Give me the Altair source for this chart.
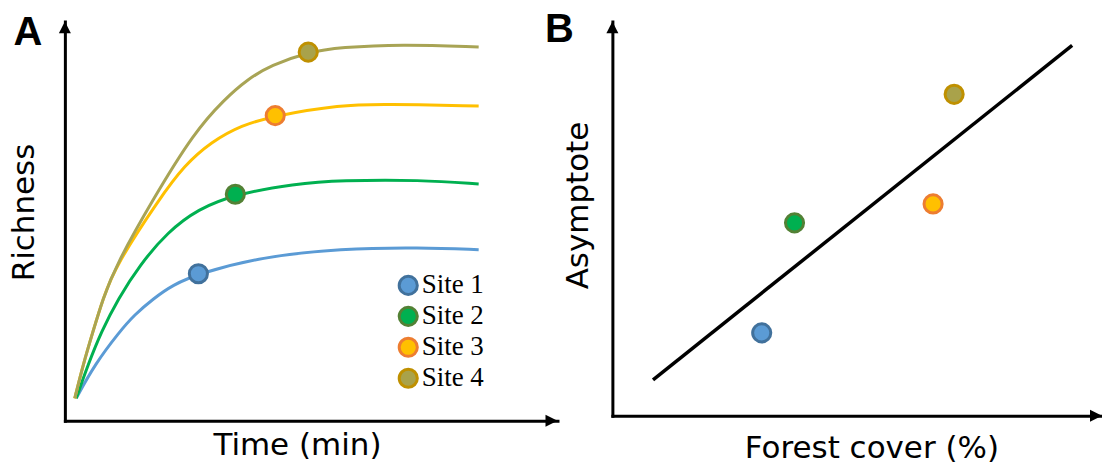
import altair as alt
import pandas as pd

# ---- shared categories and palette ----
sites = ["Site 1", "Site 2", "Site 3", "Site 4"]
line_colors = ["#5B9BD5", "#00B050", "#FFC000", "#A8A455"]
marker_fill = ["#5B9BD5", "#00B050", "#FFC000", "#A9A24A"]
marker_stroke = ["#41719C", "#538135", "#ED7D31", "#BF9000"]

# ---- panel A: accumulation curves (time vs richness) ----
time_s1 = [2.3, 6.0, 11.1, 14.1, 17.9, 21.9, 27.1, 39.8, 56.0, 72.2, 84.0]
rich_s1 = [5.6, 14.0, 22.3, 26.5, 30.5, 34.0, 36.8, 41.0, 43.1, 43.4, 42.8]

time_s2 = [2.3, 4.7, 7.4, 10.8, 15.2, 20.9, 27.0, 34.6, 46.6, 56.0, 72.2, 84.0]
rich_s2 = [5.6, 14.0, 22.3, 30.5, 39.0, 47.3, 53.0, 56.7, 59.3, 60.2, 60.3, 59.3]

time_s3 = [2.0, 3.7, 5.7, 7.7, 10.4, 19.2, 24.3, 29.7, 35.8, 42.7, 56.0, 64.7, 84.0]
rich_s3 = [5.6, 14.0, 22.3, 30.5, 39.0, 55.6, 64.0, 69.8, 74.0, 76.4, 79.1, 79.3, 78.8]

time_s4 = [2.0, 3.7, 5.7, 7.7, 10.4, 17.9, 26.3, 32.4, 37.1, 41.8, 49.4, 56.0, 68.2, 84.0]
rich_s4 = [5.6, 14.0, 22.3, 30.5, 39.0, 55.5, 72.3, 80.5, 85.5, 89.0, 92.3, 93.5, 94.3, 93.6]

# highlighted point on each curve
marker_time = [27.1, 34.6, 42.7, 49.4]
marker_rich = [36.8, 56.7, 76.4, 92.3]

# ---- panel B: asymptote against forest cover ----
forest_cover = [30.5, 37.2, 65.5, 69.8]
asymptote = [21.0, 48.9, 53.7, 81.5]
trend_cover = [8.3, 93.9]
trend_asym = [9.1, 93.9]

# ---- tables ----
curve_rows = []
for site, ts, rs in zip(sites, [time_s1, time_s2, time_s3, time_s4],
                        [rich_s1, rich_s2, rich_s3, rich_s4]):
    for order, (t, r) in enumerate(zip(ts, rs)):
        curve_rows.append({"site": site, "time": t, "richness": r, "order": order})
curves = pd.DataFrame(curve_rows)
markers_a = pd.DataFrame({"site": sites, "time": marker_time, "richness": marker_rich})
sites_b = pd.DataFrame({"site": sites, "cover": forest_cover, "asym": asymptote})
trend = pd.DataFrame({"cover": trend_cover, "asym": trend_asym})

TITLE_FONT = "DejaVu Sans"
TITLE_SIZE = 31
W_A, H_A = 493.5, 400
W_B, H_B = 490.5, 395
DOT_SIZE = 330

ARROW_UP = "M0,0L-1,2L1,2Z"
ARROW_RIGHT = "M0,0L-2,-1L-2,1Z"

color_scale = alt.Scale(domain=sites, range=line_colors)
fill_scale = alt.Scale(domain=sites, range=marker_fill)
stroke_scale = alt.Scale(domain=sites, range=marker_stroke)


def axis(title, **kw):
    return alt.Axis(
        title=title, labels=False, ticks=False, grid=False,
        domain=True, domainColor="black", domainWidth=3, domainCap="square",
        titleFont=TITLE_FONT, titleFontSize=TITLE_SIZE, titleFontWeight="normal",
        titleColor="black", titleAlign="center", titleBaseline="middle", **kw,
    )


def arrows(xfield, yfield):
    up = alt.Chart(pd.DataFrame({xfield: [0], yfield: [100]})).mark_point(
        shape=ARROW_UP, filled=True, size=144, color="black", opacity=1
    ).encode(x=f"{xfield}:Q", y=f"{yfield}:Q")
    right = alt.Chart(pd.DataFrame({xfield: [100], yfield: [0]})).mark_point(
        shape=ARROW_RIGHT, filled=True, size=144, color="black", opacity=1
    ).encode(x=f"{xfield}:Q", y=f"{yfield}:Q")
    return up, right


def panel_letter(letter, dx, dy):
    return alt.Chart(alt.Data(values=[{}])).mark_text(
        text=letter, font="Liberation Sans", fontSize=40, fontWeight="bold",
        align="left", baseline="alphabetic", color="black"
    ).encode(x=alt.value(dx), y=alt.value(dy))


site_legend = alt.Legend(title=None, orient="none", legendX=330.5, legendY=251)

# ---- panel A ----
xa = alt.X("time:Q", scale=alt.Scale(domain=[0, 100], nice=False, zero=False),
           axis=axis("Time (min)", titleX=232.5, titleY=25))
ya = alt.Y("richness:Q", scale=alt.Scale(domain=[0, 100], nice=False, zero=False),
           axis=axis("Richness", titleX=-40.5, titleY=191))

lines_a = alt.Chart(curves).mark_line(strokeWidth=3, interpolate="basis").encode(
    x=xa, y=ya,
    color=alt.Color("site:N", scale=color_scale, legend=None),
    order="order:Q",
)
dots_a = alt.Chart(markers_a).mark_circle(size=DOT_SIZE, strokeWidth=3, opacity=1).encode(
    x="time:Q", y="richness:Q",
    fill=alt.Fill("site:N", scale=fill_scale, legend=site_legend),
    stroke=alt.Stroke("site:N", scale=stroke_scale, legend=site_legend),
)
up_a, right_a = arrows("time", "richness")
panel_a = alt.layer(
    lines_a, dots_a, up_a, right_a, panel_letter("A", -51.5, 24)
).properties(width=W_A, height=H_A)

# ---- panel B ----
xb = alt.X("cover:Q", scale=alt.Scale(domain=[0, 100], nice=False, zero=False),
           axis=axis("Forest cover (%)", titleX=259.5, titleY=33))
yb = alt.Y("asym:Q", scale=alt.Scale(domain=[0, 100], nice=False, zero=False),
           axis=axis("Asymptote", titleX=-33.5, titleY=184))

trend_b = alt.Chart(trend).mark_line(strokeWidth=3.5, color="black").encode(x=xb, y=yb)
dots_b = alt.Chart(sites_b).mark_circle(size=DOT_SIZE, strokeWidth=3, opacity=1).encode(
    x="cover:Q", y="asym:Q",
    fill=alt.Fill("site:N", scale=fill_scale, legend=None),
    stroke=alt.Stroke("site:N", scale=stroke_scale, legend=None),
)
up_b, right_b = arrows("cover", "asym")
panel_b = alt.layer(
    trend_b, dots_b, up_b, right_b, panel_letter("B", -67.5, 21)
).properties(width=W_B, height=H_B)

chart = alt.hconcat(panel_a, panel_b, spacing=54.5, bounds="flush").resolve_legend(
    fill="independent", stroke="independent"
).properties(
    padding={"left": 8, "top": 10, "right": 0, "bottom": 0},
    background="white",
).configure_view(stroke=None).configure_legend(
    symbolType="circle", symbolSize=DOT_SIZE, symbolStrokeWidth=3,
    labelFont="Liberation Serif", labelFontSize=27, labelColor="black",
    labelOffset=0, rowPadding=0, padding=0, labelLimit=300,
)

chart.save("out.html", embed_options={"renderer": "svg", "actions": False})
